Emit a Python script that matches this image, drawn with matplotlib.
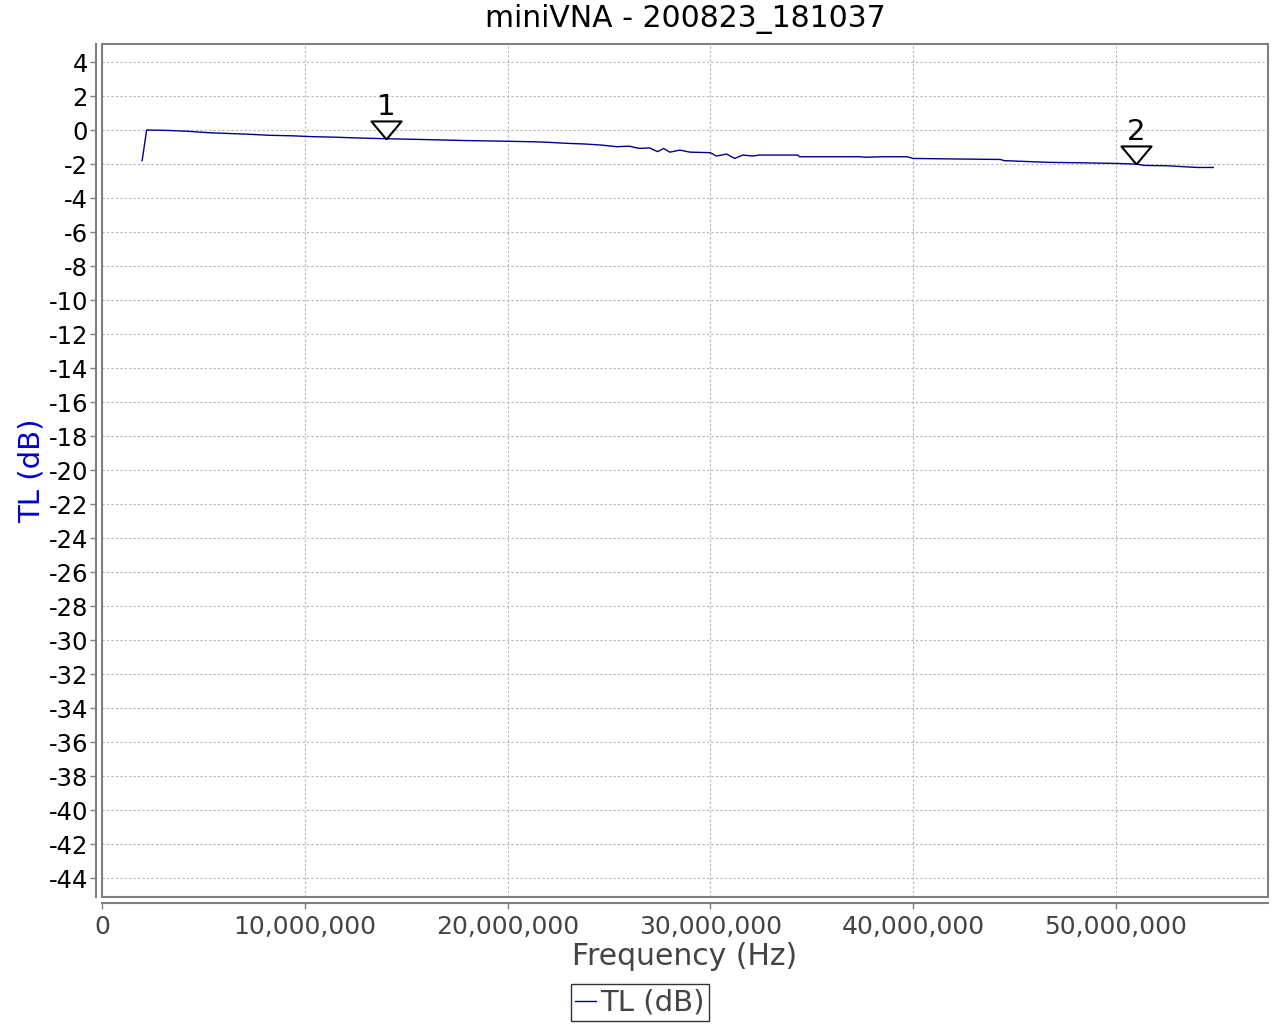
import matplotlib
matplotlib.use("Agg")
from matplotlib import pyplot as plt
from matplotlib.ticker import FuncFormatter, MultipleLocator
from matplotlib.patches import Rectangle

# frecuencia en MHz y perdida de transmision en dB
freq_mhz = [1.98, 2.2, 3.2, 4.2, 5.3, 6.2, 7.1, 8.3, 9.4, 10.4, 11.5, 12.7, 14.0,
            15.2, 16.3, 18.0, 19.6, 21.3, 22.0, 22.9, 23.8, 24.6, 25.4, 26.0,
            26.5, 27.0, 27.4, 27.7, 28.0, 28.5, 29.0, 30.0, 30.3, 30.8, 31.2,
            31.6, 32.1, 32.4, 34.3, 34.4, 36.0, 37.4, 37.6, 38.5, 39.7, 40.0,
            42.0, 44.3, 44.5, 46.7, 48.5, 49.9, 51.0, 51.4, 52.5, 54.0, 54.8]
tl_db = [-1.8, 0.0, -0.02, -0.07, -0.16, -0.2, -0.24, -0.31, -0.34, -0.39, -0.42,
         -0.47, -0.51, -0.54, -0.57, -0.62, -0.65, -0.69, -0.72, -0.78, -0.82,
         -0.88, -0.98, -0.95, -1.08, -1.05, -1.27, -1.08, -1.3, -1.18, -1.3,
         -1.33, -1.53, -1.41, -1.67, -1.47, -1.53, -1.47, -1.47, -1.57, -1.57,
         -1.57, -1.6, -1.57, -1.57, -1.67, -1.7, -1.73, -1.8, -1.9, -1.93,
         -1.96, -2.0, -2.08, -2.1, -2.2, -2.2]

marcadores_mhz = [14.0, 51.0]
marcadores_db = [-0.5, -2.0]
marcadores_txt = ["1", "2"]

freq_hz = [f * 1e6 for f in freq_mhz]
marc_hz = [f * 1e6 for f in marcadores_mhz]

fig = plt.figure(figsize=(12.8, 10.24), dpi=100)
ax = fig.add_axes([102 / 1280, 1 - 897 / 1024, 1166 / 1280, 853 / 1024])

linea, = ax.plot(freq_hz, tl_db, color="#00008b", lw=1.0, label="TL (dB)")

# triangulo con la punta en el punto del marcador
tri = [(0, 0), (-0.5, 0.6), (0.5, 0.6), (0, 0)]
ax.plot(marc_hz, marcadores_db, linestyle="none", marker=tri, markersize=26,
        markerfacecolor="white", markeredgecolor="black", markeredgewidth=1.5,
        zorder=5)
for x, y, t in zip(marc_hz, marcadores_db, marcadores_txt):
    ax.annotate(t, (x, y), xytext=(0, 17), textcoords="offset points",
                ha="center", va="baseline", fontsize=21, color="black")

ax.set_xlim(0, 57.5e6)
ax.set_ylim(-45.1, 5.06)
ax.xaxis.set_major_locator(MultipleLocator(10e6))
ax.yaxis.set_major_locator(MultipleLocator(2))
ax.xaxis.set_major_formatter(FuncFormatter(lambda v, p: f"{int(round(v)):,}"))
ax.yaxis.set_major_formatter(FuncFormatter(lambda v, p: f"{int(round(v))}"))

ax.grid(True, color="#b4b4b4", linestyle=(0, (2, 2)), linewidth=0.8)

for s in ("top", "right"):
    ax.spines[s].set_visible(False)
for s in ("left", "bottom"):
    ax.spines[s].set_position(("outward", 4))
    ax.spines[s].set_color("#808080")
    ax.spines[s].set_linewidth(1.5)
ax.add_patch(Rectangle((0, 0), 1, 1, transform=ax.transAxes, fill=False,
                       edgecolor="#808080", linewidth=1.5, clip_on=False, zorder=6))

ax.tick_params(axis="both", direction="out", length=4, color="#808080", width=1)
ax.tick_params(axis="y", labelsize=17.5, labelcolor="black", pad=2)
ax.tick_params(axis="x", labelsize=18, labelcolor="#444444", pad=5)

ax.set_title("miniVNA - 200823_181037", fontsize=21.5, pad=12)
ax.set_xlabel("Frequency (Hz)", fontsize=21.5, color="#444444", labelpad=2)
ax.set_ylabel("TL (dB)", fontsize=21, color="#0000cc", labelpad=2)

leg = fig.legend(handles=[linea], loc="lower center", bbox_to_anchor=(0.5, 0.0),
                 fontsize=21, frameon=True, fancybox=False, handlelength=0.7,
                 handletextpad=0.15, borderpad=0.15, borderaxespad=0.1,
                 labelcolor="#444444")
leg.get_frame().set_edgecolor("black")
leg.get_frame().set_linewidth(1)

fig.savefig("out.png", dpi=100)
